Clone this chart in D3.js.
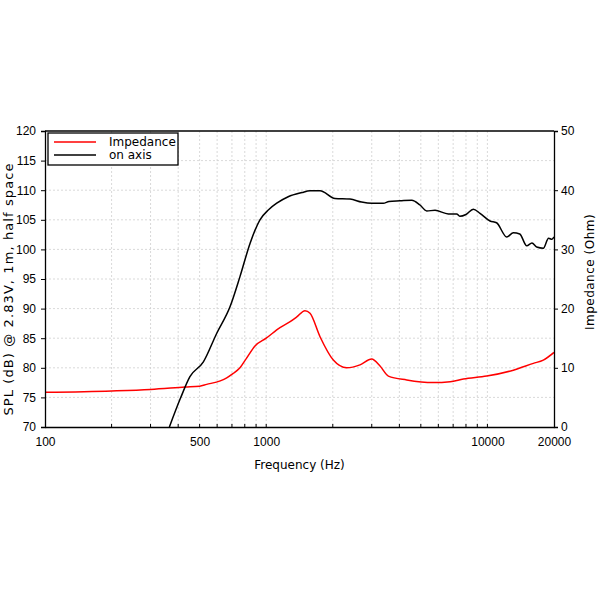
<!DOCTYPE html>
<html>
<head>
<meta charset="utf-8">
<script src="https://cdn.jsdelivr.net/npm/d3@7"></script>
<style>
  body { margin: 0; background: #fff; }
  svg { display: block; }
</style>
</head>
<body>
<div id="chart"></div>
<script>
// SPL, on axis (dB)
const splFreq = [365, 409, 452, 520, 597, 686, 761, 845, 937, 1025, 1116, 1257, 1450, 1578, 1751, 2047, 2393, 2700, 2998, 3383, 3590, 4026, 4548, 4958, 5316, 5796, 6657, 7262, 7500, 8000, 8635, 9257, 10275, 11000, 12230, 13100, 14000, 15060, 15900, 16700, 17890, 18900, 19560, 20000];
const splDb = [70, 74.8, 78.5, 81.0, 85.8, 90.3, 95.4, 101.0, 105.0, 106.7, 107.8, 108.9, 109.6, 109.9, 109.9, 108.6, 108.5, 108.0, 107.8, 107.8, 108.1, 108.2, 108.3, 107.5, 106.5, 106.6, 106.0, 106.0, 105.6, 105.9, 106.8, 106.1, 104.8, 104.5, 102.1, 102.8, 102.6, 100.6, 101.1, 100.4, 100.2, 101.9, 101.7, 102.1];

// Impedance (Ohm)
const zFreq = [100, 200, 300, 430, 500, 538, 620, 663, 707, 761, 814, 890, 1000, 1154, 1283, 1375, 1497, 1578, 1751, 2011, 2311, 2655, 2998, 3270, 3567, 4318, 5693, 6785, 7783, 9930, 13100, 16130, 17890, 20000];
const zOhm = [5.86, 6.1, 6.35, 6.75, 6.9, 7.2, 7.8, 8.3, 9.0, 10.0, 11.6, 13.7, 15.0, 16.8, 17.8, 18.6, 19.65, 19.2, 15.25, 11.3, 10.0, 10.5, 11.5, 10.3, 8.6, 7.94, 7.5, 7.65, 8.1, 8.6, 9.6, 10.75, 11.3, 12.6];

const xTickLabels = [100, 500, 1000, 10000, 20000];
const splTicks = d3.range(70, 121, 5);
const zTicks = d3.range(0, 51, 10);
const gridFreqs = [200, 300, 400, 500, 600, 700, 800, 900, 1000, 2000, 3000, 4000, 5000, 6000, 7000, 8000, 9000, 10000];

const width = 600, height = 600,
      margin = { top: 131, right: 46, bottom: 173, left: 45 };

const svg = d3.select("#chart").append("svg")
  .attr("width", width)
  .attr("height", height);

const x = d3.scaleLog().domain([100, 20000]).range([margin.left, width - margin.right]);
const y = d3.scaleLinear().domain([70, 120]).range([height - margin.bottom, margin.top]);
const y2 = d3.scaleLinear().domain([0, 50]).range([height - margin.bottom, margin.top]);

const font = "Liberation Sans, Arial, sans-serif";

// grid
svg.append("g")
  .selectAll("line")
  .data(gridFreqs)
  .join("line")
  .attr("x1", d => x(d)).attr("x2", d => x(d))
  .attr("y1", margin.top).attr("y2", height - margin.bottom)
  .attr("stroke", "#cfcfcf").attr("stroke-width", 0.8)
  .attr("stroke-dasharray", "2,2");

svg.append("g")
  .selectAll("line")
  .data(splTicks.slice(1, -1))
  .join("line")
  .attr("x1", margin.left).attr("x2", width - margin.right)
  .attr("y1", d => y(d)).attr("y2", d => y(d))
  .attr("stroke", "#cfcfcf").attr("stroke-width", 0.8)
  .attr("stroke-dasharray", "2,2");

svg.append("defs").append("clipPath").attr("id", "clip")
  .append("rect")
  .attr("x", margin.left).attr("y", margin.top)
  .attr("width", width - margin.left - margin.right)
  .attr("height", height - margin.top - margin.bottom);

// curves
const splLine = d3.line()
  .x((d, i) => x(splFreq[i]))
  .y(d => y(d))
  .curve(d3.curveMonotoneX);

const zLine = d3.line()
  .x((d, i) => x(zFreq[i]))
  .y(d => y2(d))
  .curve(d3.curveMonotoneX);

svg.append("path")
  .attr("clip-path", "url(#clip)")
  .attr("d", zLine(zOhm))
  .attr("fill", "none")
  .attr("stroke", "#ff0000")
  .attr("stroke-width", 1.5);

svg.append("path")
  .attr("clip-path", "url(#clip)")
  .attr("d", splLine(splDb))
  .attr("fill", "none")
  .attr("stroke", "#000")
  .attr("stroke-width", 1.5);

// axes
const xAxis = svg.append("g")
  .attr("transform", `translate(0,${height - margin.bottom})`)
  .call(d3.axisBottom(x).tickValues(xTickLabels).tickFormat(d3.format("d")).tickSize(0).tickPadding(10));

const yAxis = svg.append("g")
  .attr("transform", `translate(${margin.left},0)`)
  .call(d3.axisLeft(y).tickValues(splTicks).tickSize(4).tickPadding(5));

const y2Axis = svg.append("g")
  .attr("transform", `translate(${width - margin.right},0)`)
  .call(d3.axisRight(y2).tickValues(zTicks).tickSize(4).tickPadding(3));

[xAxis, yAxis, y2Axis].forEach(g => {
  g.select(".domain").attr("stroke", "#000").attr("stroke-width", 1.3);
  g.selectAll("text").attr("font-family", font).attr("font-size", 12).attr("fill", "#000");
});

// minor ticks on the frequency axis
svg.append("g")
  .selectAll("line")
  .data(gridFreqs)
  .join("line")
  .attr("x1", d => x(d)).attr("x2", d => x(d))
  .attr("y1", height - margin.bottom).attr("y2", height - margin.bottom - 3)
  .attr("stroke", "#000");

// frame top
svg.append("line")
  .attr("x1", margin.left).attr("x2", width - margin.right)
  .attr("y1", margin.top).attr("y2", margin.top)
  .attr("stroke", "#000").attr("stroke-width", 1.3);

// axis titles
svg.append("text")
  .attr("x", (margin.left + width - margin.right) / 2)
  .attr("y", 469)
  .attr("text-anchor", "middle")
  .attr("font-family", "DejaVu Sans, sans-serif")
  .attr("font-size", 12)
  .text("Frequency (Hz)");

svg.append("text")
  .attr("transform", "translate(13,289) rotate(-90)")
  .attr("text-anchor", "middle")
  .attr("font-family", "DejaVu Sans, sans-serif")
  .attr("font-size", 13)
  .attr("letter-spacing", 1.1)
  .text("SPL (dB) @ 2.83V, 1m, half space");

svg.append("text")
  .attr("transform", "translate(594,272) rotate(-90)")
  .attr("text-anchor", "middle")
  .attr("font-family", "DejaVu Sans, sans-serif")
  .attr("font-size", 12)
  .attr("letter-spacing", 0.5)
  .text("Impedance (Ohm)");

// legend
const legend = svg.append("g").attr("transform", `translate(${margin.left + 3},${margin.top + 2})`);
legend.append("rect")
  .attr("width", 130).attr("height", 32)
  .attr("fill", "#fff").attr("stroke", "#000").attr("stroke-width", 1.3);

const legendItems = [
  { label: "Impedance", color: "#ff0000" },
  { label: "on axis", color: "#000" }
];
legendItems.forEach((d, i) => {
  legend.append("line")
    .attr("x1", 6).attr("x2", 48)
    .attr("y1", 9 + i * 13).attr("y2", 9 + i * 13)
    .attr("stroke", d.color).attr("stroke-width", 1.5);
  legend.append("text")
    .attr("x", 61).attr("y", 13 + i * 13)
    .attr("font-family", "DejaVu Sans, sans-serif")
    .attr("font-size", 12)
    .text(d.label);
});
</script>
</body>
</html>
